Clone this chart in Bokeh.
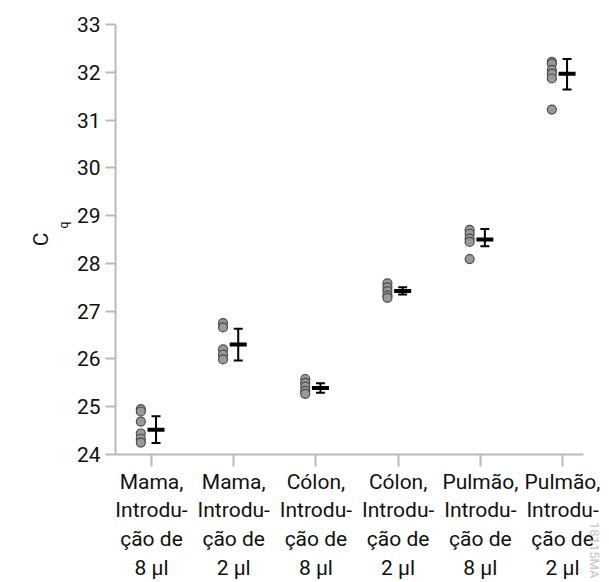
from bokeh.plotting import figure
from bokeh.models import Range1d, FixedTicker, Title, ColumnDataSource
from bokeh.transform import dodge
from bokeh.embed import file_html
from bokeh.resources import INLINE

# ---- data ----
categories = [
    "Mama,\nIntrodu-\nção de\n8 µl",
    "Mama,\nIntrodu-\nção de\n2 µl",
    "Cólon,\nIntrodu-\nção de\n8 µl",
    "Cólon,\nIntrodu-\nção de\n2 µl",
    "Pulmão,\nIntrodu-\nção de\n8 µl",
    "Pulmão,\nIntrodu-\nção de\n2 µl",
]
mama_8 = [24.95, 24.90, 24.69, 24.44, 24.33, 24.25]
mama_2 = [26.75, 26.66, 26.20, 26.09, 25.99]
colon_8 = [25.58, 25.50, 25.42, 25.33, 25.27]
colon_2 = [27.58, 27.50, 27.42, 27.33, 27.28]
pulmao_8 = [28.70, 28.62, 28.52, 28.45, 28.09]
pulmao_2 = [32.22, 32.18, 32.05, 31.97, 31.87, 31.22]
means = [24.52, 26.30, 25.39, 27.42, 28.50, 31.97]
lower = [24.24, 25.97, 25.29, 27.35, 28.36, 31.64]
upper = [24.80, 26.63, 25.49, 27.50, 28.72, 32.28]
y_ticks = [24, 25, 26, 27, 28, 29, 30, 31, 32, 33]

groups = [mama_8, mama_2, colon_8, colon_2, pulmao_8, pulmao_2]
px, py = [], []
for i, g in enumerate(groups):
    for v in g:
        px.append(i)
        py.append(v)
pts = ColumnDataSource(dict(x=px, y=py))
stats = ColumnDataSource(dict(x=list(range(len(categories))), m=means, lo=lower, hi=upper))

FONT = "Roboto"
AXIS_COLOR = "#b9b9b9"

p = figure(width=609, height=582,
           min_border_left=115, min_border_right=26, min_border_top=24, min_border_bottom=128,
           x_range=Range1d(-0.438, 5.255), y_range=Range1d(24, 33),
           output_backend="svg", toolbar_location=None)
p.xgrid.visible = False
p.ygrid.visible = False
p.outline_line_color = None
p.background_fill_color = "white"
p.border_fill_color = "white"

for ax in (p.xaxis[0], p.yaxis[0]):
    ax.axis_line_color = AXIS_COLOR
    ax.axis_line_width = 2
    ax.major_tick_line_color = AXIS_COLOR
    ax.major_tick_line_width = 2
    ax.major_tick_in = 0
    ax.major_tick_out = 10
    ax.minor_tick_line_color = None
    ax.major_label_text_font = FONT
    ax.major_label_text_font_size = "21px"
    ax.major_label_text_color = "#111111"

p.yaxis.ticker = FixedTicker(ticks=y_ticks)
p.yaxis.major_label_standoff = 5
p.xaxis.ticker = FixedTicker(ticks=list(range(len(categories))))
p.xaxis.major_label_overrides = {i: c for i, c in enumerate(categories)}
p.xaxis.major_label_standoff = 3
p.xaxis.major_tick_out = 12

# points
p.scatter(x=dodge("x", -0.13), y="y", source=pts, size=9,
          fill_color="#9a9a9a", line_color="#4a4a4a", line_width=1.2)

# error bars
p.segment(x0=dodge("x", 0.055), y0="lo", x1=dodge("x", 0.055), y1="hi",
          source=stats, line_color="black", line_width=2)
p.scatter(x=dodge("x", 0.055), y="lo", source=stats, marker="dash", size=9,
          line_color="black", line_width=2)
p.scatter(x=dodge("x", 0.055), y="hi", source=stats, marker="dash", size=9,
          line_color="black", line_width=2)
p.scatter(x=dodge("x", 0.055), y="m", source=stats, marker="dash", size=17,
          line_color="black", line_width=4)

# y axis label C with subscript q (titles in the left panel)
p.add_layout(Title(text="q", align="left", offset=226, standoff=5,
                   text_font=FONT, text_font_size="12px", text_font_style="normal",
                   text_color="#111111"), "left")
p.add_layout(Title(text="C", align="center", offset=0, standoff=0,
                   text_font=FONT, text_font_size="21px", text_font_style="normal",
                   text_color="#111111"), "left")

# watermark
p.add_layout(Title(text="18115MA", align="right", offset=-124, standoff=6,
                   text_font=FONT, text_font_size="13px", text_font_style="normal",
                   text_color="#c4c4c4"), "right")

open("out.html", "w").write(file_html(p, INLINE))
